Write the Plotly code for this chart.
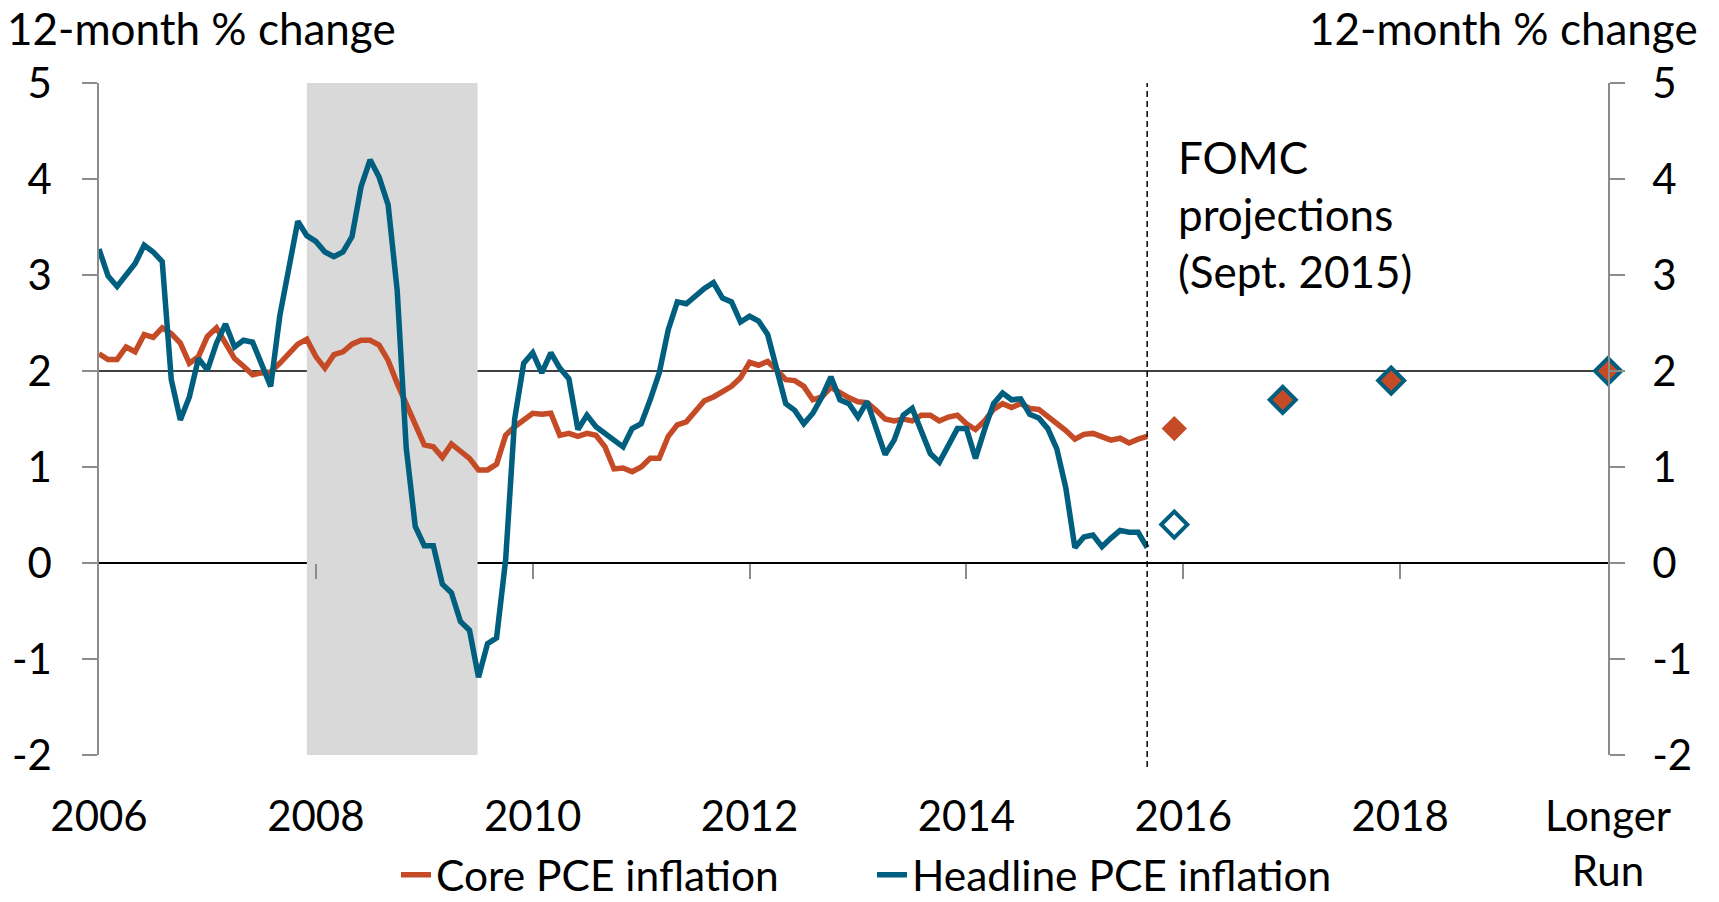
import plotly.graph_objects as go

# ---------------- data (monthly, Jan 2006 .. Sep 2015) ----------------
start_year = 2006
core_pce = [
    2.18, 2.12, 2.12, 2.25, 2.20, 2.38, 2.35, 2.45, 2.39, 2.29,
    2.08, 2.15, 2.36, 2.45, 2.29, 2.13, 2.05, 1.96, 1.98, 1.99,
    2.08, 2.18, 2.28, 2.33, 2.15, 2.03, 2.17, 2.20, 2.28, 2.32,
    2.32, 2.27, 2.11, 1.87, 1.66, 1.42, 1.23, 1.21, 1.10, 1.24,
    1.16, 1.09, 0.97, 0.97, 1.03, 1.33, 1.42, 1.49, 1.56, 1.55,
    1.56, 1.33, 1.35, 1.32, 1.35, 1.33, 1.21, 0.98, 0.99, 0.95,
    1.00, 1.09, 1.09, 1.32, 1.44, 1.47, 1.58, 1.69, 1.73, 1.78,
    1.84, 1.93, 2.09, 2.06, 2.10, 2.01, 1.91, 1.90, 1.84, 1.70,
    1.73, 1.83, 1.77, 1.72, 1.68, 1.67, 1.59, 1.50, 1.48, 1.50,
    1.48, 1.54, 1.54, 1.48, 1.52, 1.54, 1.45, 1.39, 1.48, 1.60,
    1.66, 1.62, 1.66, 1.61, 1.60, 1.53, 1.45, 1.38, 1.29, 1.34,
    1.35, 1.32, 1.28, 1.30, 1.25, 1.29, 1.32,
]
headline_pce = [
    3.27, 2.99, 2.88, 3.00, 3.12, 3.31, 3.24, 3.14, 1.91, 1.49,
    1.73, 2.13, 2.01, 2.29, 2.49, 2.25, 2.32, 2.30, 2.08, 1.84,
    2.57, 3.09, 3.56, 3.41, 3.35, 3.24, 3.19, 3.24, 3.40, 3.92,
    4.20, 4.02, 3.73, 2.84, 1.20, 0.38, 0.18, 0.18, -0.22, -0.31,
    -0.61, -0.70, -1.19, -0.84, -0.78, 0.03, 1.50, 2.08, 2.19, 1.98,
    2.19, 2.03, 1.92, 1.39, 1.54, 1.42, 1.35, 1.28, 1.21, 1.40,
    1.45, 1.70, 1.98, 2.43, 2.72, 2.70, 2.78, 2.86, 2.92, 2.76,
    2.72, 2.51, 2.57, 2.52, 2.38, 2.01, 1.66, 1.59, 1.45, 1.56,
    1.73, 1.94, 1.70, 1.66, 1.52, 1.68, 1.40, 1.13, 1.28, 1.54,
    1.61, 1.37, 1.14, 1.05, 1.23, 1.40, 1.40, 1.09, 1.39, 1.66,
    1.77, 1.70, 1.71, 1.55, 1.51, 1.40, 1.19, 0.78, 0.16, 0.27,
    0.29, 0.17, 0.26, 0.34, 0.32, 0.32, 0.16,
]

# FOMC projections (Sept. 2015): 2015, 2016, 2017 (Q4) and longer run
proj_periods = [(2015, 12), (2016, 12), (2017, 12), (2019, 12)]
proj_core = [1.4, 1.7, 1.9, 2.0]
proj_headline = [0.4, 1.7, 1.9, 2.0]

tick_years = [2006, 2008, 2010, 2012, 2014, 2016, 2018]
tick_labels = ["2006", "2008", "2010", "2012", "2014", "2016", "2018", "Longer<br>Run"]
y_ticks = [-2, -1, 0, 1, 2, 3, 4, 5]
y_ticktext = ["-2", "-1", "0", "1", "2", "3", "4", "5"]

recession = ((2007, 12), (2009, 7))

# ---------------- helpers ----------------
def midx(year, month):
    return (year - start_year) * 12 + (month - 1)

x_hist = list(range(len(core_pce)))
x_proj = [midx(y, m) for y, m in proj_periods]
x_end = midx(2019, 12)
tick_x = [midx(y, 1) for y in tick_years] + [x_end]

ORANGE = "#C54B26"
TEAL = "#005E7E"
GRAY = "#8C8C8C"
FONT = "Lato"

fig = go.Figure()
fig.add_trace(go.Scatter(x=x_hist, y=core_pce, mode="lines", name="Core PCE inflation",
                         line=dict(color=ORANGE, width=5.5)))
fig.add_trace(go.Scatter(x=x_hist, y=headline_pce, mode="lines", name="Headline PCE inflation",
                         line=dict(color=TEAL, width=5.5)))
fig.add_trace(go.Scatter(x=x_proj, y=proj_core, mode="markers", showlegend=False,
                         marker=dict(symbol="diamond", size=19.5, color=ORANGE, line=dict(width=0)),
                         cliponaxis=False))
fig.add_trace(go.Scatter(x=x_proj, y=proj_headline, mode="markers", showlegend=False,
                         marker=dict(symbol="diamond-open", size=20, color=TEAL, line=dict(width=4, color=TEAL)),
                         cliponaxis=False))

shapes = [
    dict(type="rect", xref="x", yref="y", x0=midx(*recession[0]), x1=midx(*recession[1]) - 0.1,
         y0=-2, y1=5, fillcolor="#D9D9D9", line=dict(width=0), layer="below"),
    dict(type="line", xref="paper", yref="y", x0=0, x1=1, y0=2, y1=2,
         line=dict(color="black", width=1.3), layer="below"),
    dict(type="line", xref="paper", yref="y", x0=0, x1=1, y0=0, y1=0,
         line=dict(color="black", width=2), layer="below"),
    dict(type="line", xref="x", yref="paper", x0=x_hist[-1], x1=x_hist[-1], y0=-0.018, y1=1,
         line=dict(color="black", width=1.5, dash="6px,4px")),
]

W, H = 1719, 902
ML, MR, MT, MB = 99, 111, 83, 147
PW, PH = W - ML - MR, H - MT - MB

def px(xp):
    return (xp - ML) / PW

def py(yp):
    return (H - MB - yp) / PH

tickfont = dict(family=FONT, size=42, color="black")
annotations = [
    dict(text="12-month % change", xref="paper", yref="paper", x=px(6), y=py(1), xanchor="left",
         yanchor="top", showarrow=False, borderpad=0, font=dict(family=FONT, size=44, color="black")),
    dict(text="12-month % change", xref="paper", yref="paper", x=px(1699), y=py(1), xanchor="right",
         yanchor="top", showarrow=False, borderpad=0, font=dict(family=FONT, size=44, color="black")),
    dict(text="FOMC<br>projections<br>(Sept. 2015)", xref="paper", yref="paper", x=px(1176), y=py(129),
         xanchor="left", yanchor="top", align="left", showarrow=False,
         font=dict(family=FONT, size=44, color="black")),
]

fig.update_layout(
    width=W, height=H,
    margin=dict(l=ML, r=MR, t=MT, b=MB, pad=0, autoexpand=False),
    paper_bgcolor="white", plot_bgcolor="white",
    font=dict(family=FONT, color="black"),
    shapes=shapes, annotations=annotations,
    showlegend=True,
    legend=dict(orientation="h", xref="container", yref="container", x=(872 / W), xanchor="center",
                y=(H - 875) / H, yanchor="middle",
                font=dict(family=FONT, size=42.5, color="black"), bgcolor="rgba(0,0,0,0)",
                entrywidth=431, entrywidthmode="pixels", tracegroupgap=0),
    xaxis=dict(range=[0, x_end], tickmode="array", tickvals=tick_x, ticktext=tick_labels,
               showgrid=False, zeroline=False, showline=False, ticks="outside", ticklen=25,
               tickcolor="rgba(0,0,0,0)", tickfont=tickfont, automargin=False),
    xaxis2=dict(range=[0, x_end], overlaying="x", anchor="free", position=2 / 7, side="bottom",
                tickmode="array", tickvals=tick_x[1:-1], showticklabels=False, ticks="outside",
                ticklen=15, tickwidth=1.5, tickcolor=GRAY, showgrid=False, zeroline=False,
                showline=False, automargin=False),
    yaxis=dict(range=[-2, 5], tickmode="array", tickvals=y_ticks, ticktext=y_ticktext,
               showgrid=False, zeroline=False, showline=True, linecolor=GRAY, linewidth=1.5,
               ticks="outside", ticklen=15, tickwidth=1.5, tickcolor=GRAY, tickfont=tickfont,
               ticklabelstandoff=22, automargin=False),
    yaxis2=dict(range=[-2, 5], overlaying="y", side="right", anchor="x", tickmode="array",
                tickvals=y_ticks, ticktext=y_ticktext, showgrid=False, zeroline=False,
                showline=True, linecolor=GRAY, linewidth=1.5, ticks="outside", ticklen=15,
                tickwidth=1.5, tickcolor=GRAY, tickfont=tickfont, ticklabelstandoff=19,
                automargin=False),
)
# give the overlay axes something to anchor to
fig.add_trace(go.Scatter(x=[None], y=[None], xaxis="x2", yaxis="y2", showlegend=False, hoverinfo="skip"))

fig.write_html("out.html", config={"displayModeBar": False},
               post_script="document.body.style.margin='0';document.body.style.overflow='hidden';")
